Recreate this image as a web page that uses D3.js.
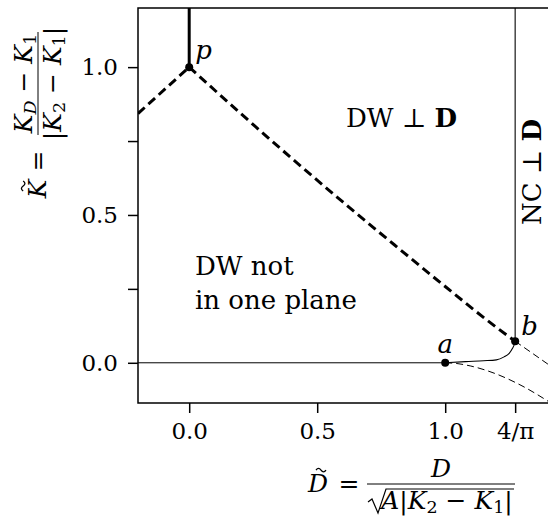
<!DOCTYPE html>
<html>
<head>
<meta charset="utf-8">
<script src="https://cdn.jsdelivr.net/npm/d3@7"></script>
<style>
  html, body { margin: 0; padding: 0; background: #fff; }
  svg { display: block; }
  text { font-family: "DejaVu Serif", serif; fill: #000; }
</style>
</head>
<body>
<svg id="chart" width="548" height="517"></svg>
<script>
// Phase diagram in the (D~, K~) plane
const PI4 = 4 / Math.PI;

// Axis ticks
const xTickValues = [0, 0.5, 1.0, PI4];
const xTickLabels = ["0.0", "0.5", "1.0", "4/\u03C0"];
const yTickValues = [0, 0.25, 0.5, 0.75, 1.0];
const yTickLabels = ["0.0", "", "0.5", "", "1.0"];

// Thick dashed boundary left of p
const leftD = [-0.2, 0];
const leftK = [0.843, 1];
// Thick dashed boundary from p to b
const upperD = [0, 0.2, 0.4, 0.6, 0.8, 1.0, 1.2, PI4];
const upperK = [1, 0.844, 0.692, 0.544, 0.400, 0.258, 0.120, 0.073];
// Thick solid line above p
const pVertD = [0, 0];
const pVertK = [1, 1.2];
// Thin solid line along K~ = 0 up to a
const zeroD = [-0.2, 1];
const zeroK = [0, 0];
// Thin solid curve from a to b
const abD = [1, 1.08, 1.15, 1.2, 1.23, 1.25, 1.263, 1.27, PI4];
const abK = [0, 0.004, 0.007, 0.010, 0.020, 0.032, 0.049, 0.062, 0.073];
// Thin solid vertical line above b
const bVertD = [PI4, PI4];
const bVertK = [0.073, 1.2];
// Thin dashed continuations beyond a and b
const aDashD = [1, 1.05, 1.1, 1.2, 1.3, 1.42];
const aDashK = [0, -0.003, -0.011, -0.038, -0.078, -0.14];
const bDashD = [PI4, 1.42];
const bDashK = [0.073, -0.016];
// Special points
const pointNames = ["p", "a", "b"];
const pointD = [0, 1, PI4];
const pointK = [1, 0, 0.073];

const svg = d3.select("#chart");
const plotLeft = 138, plotTop = 8, plotBottom = 403;
const x = d3.scaleLinear().domain([-0.2, 1.42]).range([plotLeft, plotLeft + 1.62 * 256]);
const y = d3.scaleLinear().domain([-0.136, 1.2]).range([plotBottom, plotTop]);
const plotRight = x.range()[1];

svg.append("defs").append("clipPath").attr("id", "plotclip")
  .append("rect").attr("x", plotLeft).attr("y", plotTop)
  .attr("width", plotRight - plotLeft).attr("height", plotBottom - plotTop);

const plot = svg.append("g").attr("clip-path", "url(#plotclip)");
const zip = (a, b) => a.map((v, i) => [v, b[i]]);

function curve(D, K, width, dash, c) {
  const line = d3.line().x(d => x(d[0])).y(d => y(d[1])).curve(c || d3.curveLinear);
  plot.append("path")
    .attr("d", line(zip(D, K)))
    .attr("fill", "none").attr("stroke", "#000")
    .attr("stroke-width", width)
    .attr("stroke-dasharray", dash || null);
}

curve(zeroD, zeroK, 1, null);
curve(abD, abK, 1.1, null, d3.curveMonotoneX);
curve(bVertD, bVertK, 1.1, null);
curve(aDashD, aDashK, 1, "7,4", d3.curveMonotoneX);
curve(bDashD, bDashK, 1, "7,4");
curve(leftD, leftK, 3, "9,5");
curve(upperD, upperK, 3, "9,5", d3.curveMonotoneX);
curve(pVertD, pVertK, 3, null);

plot.selectAll("circle.pt").data(pointD).join("circle")
  .attr("class", "pt")
  .attr("cx", (d) => x(d)).attr("cy", (d, i) => y(pointK[i]))
  .attr("r", 4).attr("fill", "#000");

// Frame
svg.append("path")
  .attr("d", `M${plotRight},${plotTop} H${plotLeft} V${plotBottom} H${plotRight}`)
  .attr("fill", "none").attr("stroke", "#000").attr("stroke-width", 1.5);

// Axes
const xAxis = d3.axisBottom(x).tickValues(xTickValues)
  .tickFormat((d, i) => xTickLabels[i]).tickSize(10).tickPadding(8);
const gx = svg.append("g").attr("transform", `translate(0,${plotBottom})`).call(xAxis);
const yAxis = d3.axisLeft(y).tickValues(yTickValues)
  .tickFormat((d, i) => yTickLabels[i]).tickSize(10).tickPadding(10);
const gy = svg.append("g").attr("transform", `translate(${plotLeft},0)`).call(yAxis);
[gx, gy].forEach(g => {
  g.attr("font-family", null);
  g.select(".domain").remove();
  g.selectAll(".tick line").attr("stroke-width", 1.5);
  g.selectAll(".tick text").attr("font-family", "DejaVu Serif").attr("font-size", 23);
});
gx.selectAll(".tick text").attr("dy", "0.8em");

// Point labels
const labelPos = { p: [6, -8, "start"], a: [0, -10, "middle"], b: [6, -6, "start"] };
pointNames.forEach((n, i) => {
  const lp = labelPos[n];
  svg.append("text")
    .attr("x", x(pointD[i]) + lp[0]).attr("y", y(pointK[i]) + lp[1])
    .attr("text-anchor", lp[2])
    .attr("font-style", "italic").attr("font-size", 26).text(n);
});

// Region labels
const dw = svg.append("text").attr("x", 346).attr("y", 127).attr("font-size", 26);
dw.append("tspan").text("DW \u22A5 ");
dw.append("tspan").attr("font-weight", "bold").text("D");

svg.append("text").attr("x", 195).attr("y", 275).attr("font-size", 26).text("DW not");
svg.append("text").attr("x", 195).attr("y", 309).attr("font-size", 26).text("in one plane");

const nc = svg.append("text").attr("font-size", 26).attr("text-anchor", "middle")
  .attr("transform", "translate(541,172) rotate(-90)");
nc.append("tspan").text("NC \u22A5 ");
nc.append("tspan").attr("font-weight", "bold").text("D");

// Math helper: write a sequence of pieces into a text element
function mathText(parent, px, py, pieces, size, anchor) {
  const t = parent.append("text").attr("x", px).attr("y", py)
    .attr("font-size", size).attr("text-anchor", anchor || "start");
  pieces.forEach(p => {
    const s = t.append("tspan").text(p.t);
    if (p.i) s.attr("font-style", "italic");
    if (p.sub) s.attr("font-size", size * 0.7).attr("baseline-shift", "-20%");
    if (p.dx) s.attr("dx", p.dx);
  });
  return t;
}

// Tilde accent drawn as a small wave
function tilde(parent, cx, cy, w) {
  const h = w * 0.35;
  parent.append("path")
    .attr("d", `M${cx - w / 2},${cy + h / 3} q${w / 4},${-h} ${w / 2},0 t${w / 2},0`)
    .attr("fill", "none").attr("stroke", "#000").attr("stroke-width", 1.3);
}

// y-axis label (rotated)
const yl = svg.append("g").attr("transform", "translate(38,135) rotate(-90)");
yl.append("line").attr("x1", 0).attr("x2", 103).attr("y1", 0).attr("y2", 0)
  .attr("stroke", "#000").attr("stroke-width", 1);
mathText(yl, 51.5, -6, [
  { t: "K", i: true }, { t: "D", i: true, sub: true }, { t: " \u2212 " },
  { t: "K", i: true }, { t: "1", sub: true }], 25, "middle");
mathText(yl, 51.5, 23, [
  { t: "|" }, { t: "K", i: true }, { t: "2", sub: true }, { t: " \u2212 " },
  { t: "K", i: true }, { t: "1", sub: true }, { t: "|" }], 25, "middle");
mathText(yl, -26, 8, [{ t: "=" }], 25, "middle");
mathText(yl, -54, 8, [{ t: "K", i: true }], 25, "middle");
tilde(yl, -51, -16, 10);

// x-axis label
const xl = svg.append("g");
mathText(xl, 318, 492, [{ t: "D", i: true }], 25, "middle");
tilde(xl, 321, 469, 10);
mathText(xl, 349, 492, [{ t: "=" }], 25, "middle");
xl.append("line").attr("x1", 367).attr("x2", 515).attr("y1", 484).attr("y2", 484)
  .attr("stroke", "#000").attr("stroke-width", 1);
mathText(xl, 441, 477, [{ t: "D", i: true }], 25, "middle");
xl.append("path")
  .attr("d", "M368,502 L372,499 L378,513 L386,489 L514,489")
  .attr("fill", "none").attr("stroke", "#000").attr("stroke-width", 1.2);
mathText(xl, 447, 509, [
  { t: "A", i: true }, { t: "|" }, { t: "K", i: true }, { t: "2", sub: true },
  { t: " \u2212 " }, { t: "K", i: true }, { t: "1", sub: true }, { t: "|" }], 25, "middle");
</script>
</body>
</html>
